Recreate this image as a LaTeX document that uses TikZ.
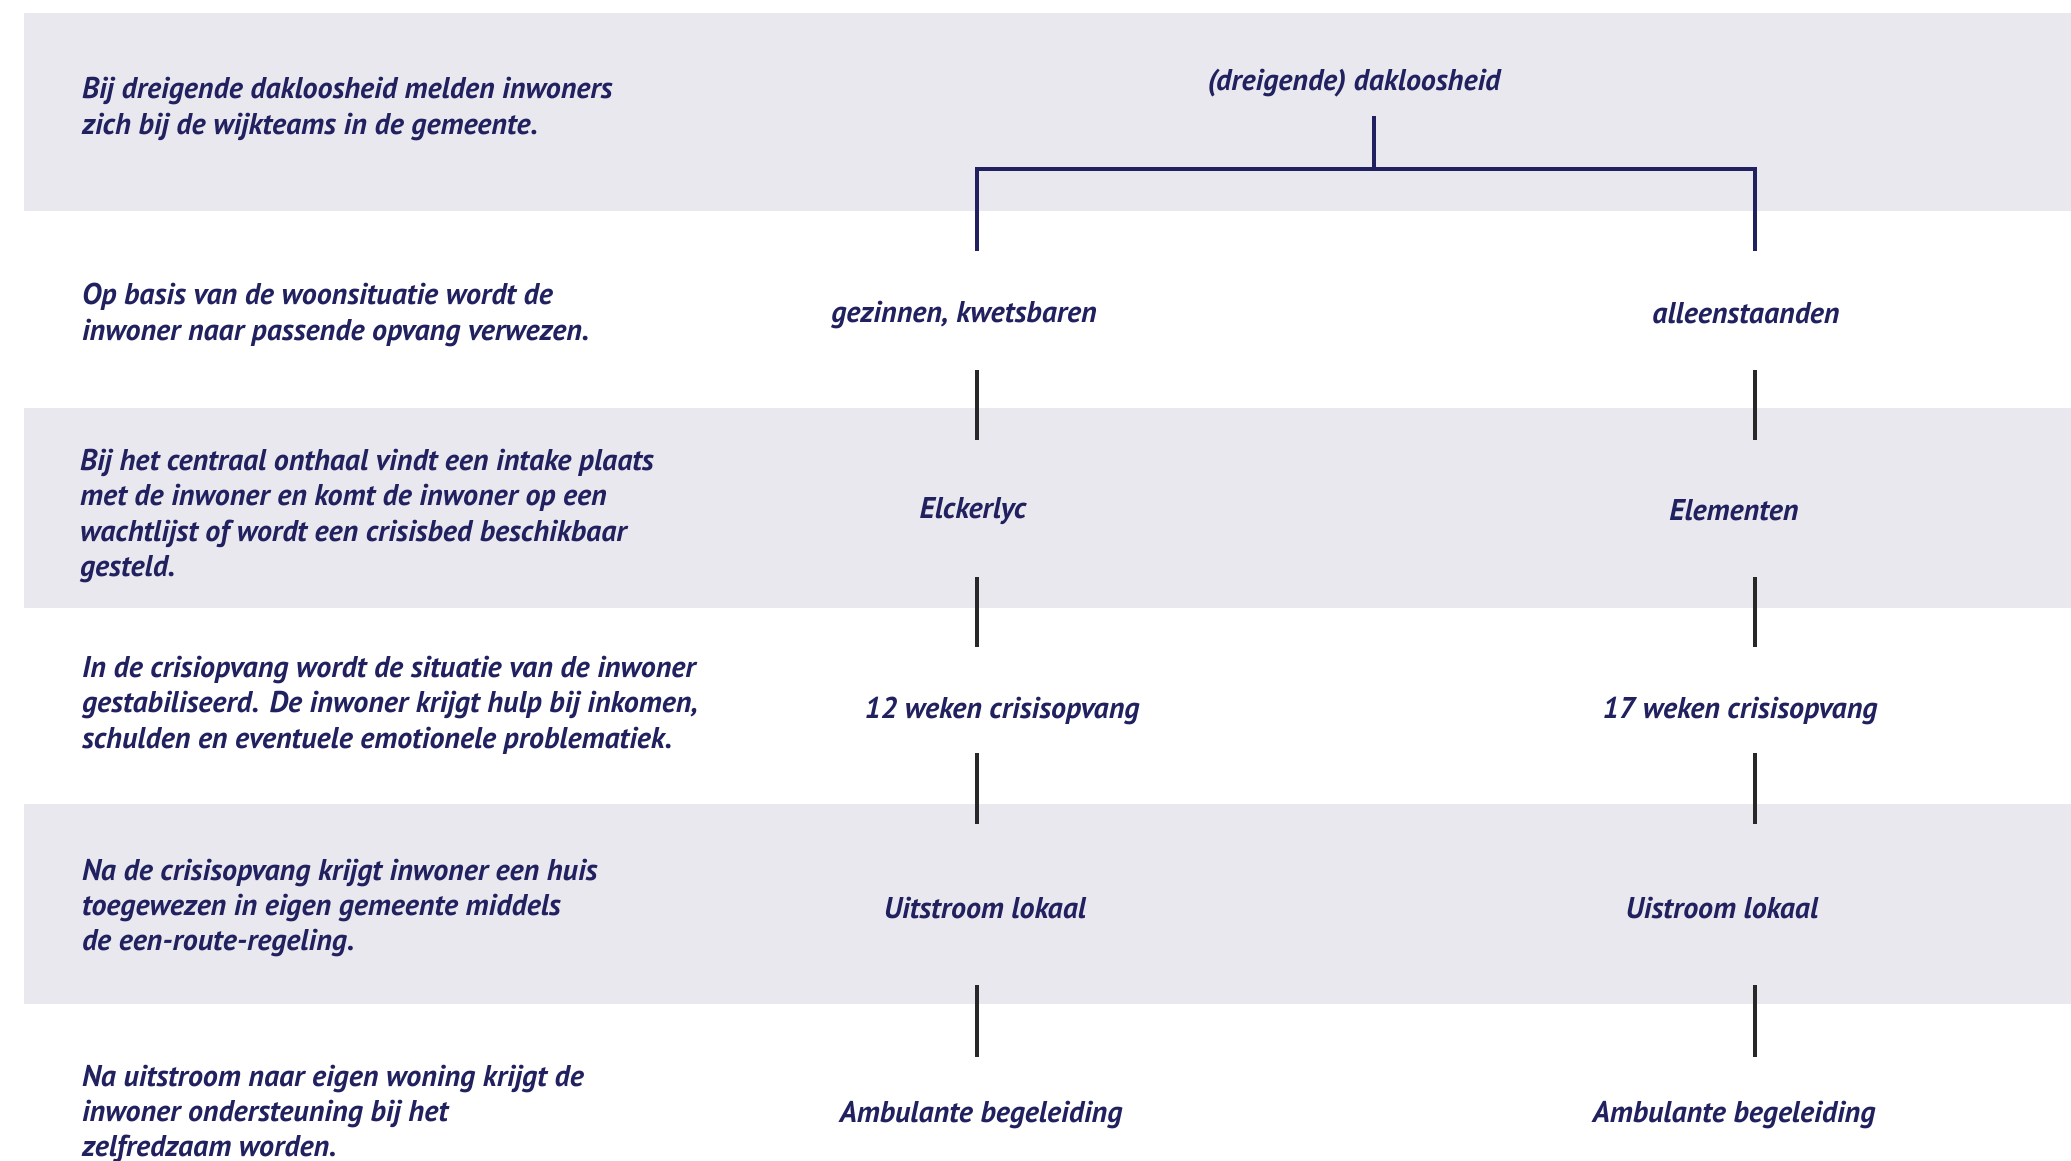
\documentclass[tikz,border=0pt]{standalone}
\usepackage{fontspec}
\setmainfont{PT Sans}
\definecolor{navy}{RGB}{33,33,96}
\definecolor{bandgray}{RGB}{233,232,239}
\definecolor{linegray}{RGB}{40,40,40}
\begin{document}
\begin{tikzpicture}[x=1pt,y=-1pt,
  every node/.style={inner sep=0pt,outer sep=0pt,text=navy,font=\fontsize{30}{35.4}\selectfont\bfseries\itshape},
  desc/.style={anchor=west,align=left},
  lbl/.style={anchor=center},
  band/.style={fill=bandgray,draw=none},
  brk/.style={draw=navy,line width=3.4pt},
  conn/.style={draw=linegray,line width=3.4pt}]
\useasboundingbox (0,0) rectangle (2071,1161);
\fill[white] (0,0) rectangle (2071,1161);
% bands
\path[band] (24,13) rectangle (2071,211);
\path[band] (24,408) rectangle (2071,608);
\path[band] (24,804) rectangle (2071,1004);
% left descriptions
\node[desc] (d1) at (82,109) {Bij dreigende dakloosheid melden inwoners\\zich bij de wijkteams in de gemeente.};
\node[desc] (d2) at (82,315) {Op basis van de woonsituatie wordt de\\inwoner naar passende opvang verwezen.};
\node[desc] (d3) at (80,516) {Bij het centraal onthaal vindt een intake plaats\\met de inwoner en komt de inwoner op een\\wachtlijst of wordt een crisisbed beschikbaar\\gesteld.};
\node[desc] (d4) at (82,705) {In de crisiopvang wordt de situatie van de inwoner\\gestabiliseerd. De inwoner krijgt hulp bij inkomen,\\schulden en eventuele emotionele problematiek.};
\node[desc] (d5) at (82,908) {Na de crisisopvang krijgt inwoner een huis\\toegewezen in eigen gemeente middels\\de een-route-regeling.};
\node[desc] (d6) at (82,1114) {Na uitstroom naar eigen woning krijgt de\\inwoner ondersteuning bij het\\zelfredzaam worden.};
% flow labels
\node[lbl] (top) at (1354,83) {(dreigende) dakloosheid};
\node[lbl] (a1) at (964,315) {gezinnen, kwetsbaren};
\node[lbl] (b1) at (1746,313) {alleenstaanden};
\node[lbl] (a2) at (973,511) {Elckerlyc};
\node[lbl] (b2) at (1734,510) {Elementen};
\node[lbl] (a3) at (1002,711) {12 weken crisisopvang};
\node[lbl] (b3) at (1740,711) {17 weken crisisopvang};
\node[lbl] (a4) at (985,908) {Uitstroom lokaal};
\node[lbl] (b4) at (1722,908) {Uistroom lokaal};
\node[lbl] (a5) at (981,1115) {Ambulante begeleiding};
\node[lbl] (b5) at (1734,1115) {Ambulante begeleiding};
% bracket
\coordinate (t0) at (1374,116);
\coordinate (t1) at (1374,169);
\coordinate (tl) at (977,169);
\coordinate (tr) at (1755,169);
\coordinate (tlb) at (977,251);
\coordinate (trb) at (1755,251);
\draw[brk] (t0) -- (t1);
\draw[brk] (tlb) -- (tl) -- (tr) -- (trb);
% connectors
\foreach \i/\ya/\yb in {1/370/440,2/577/647,3/753/824,4/985/1057}{
  \coordinate (la\i) at (977,\ya); \coordinate (lb\i) at (977,\yb);
  \coordinate (ra\i) at (1755,\ya); \coordinate (rb\i) at (1755,\yb);
  \draw[conn] (la\i) -- (lb\i);
  \draw[conn] (ra\i) -- (rb\i);
}
\end{tikzpicture}
\end{document}
